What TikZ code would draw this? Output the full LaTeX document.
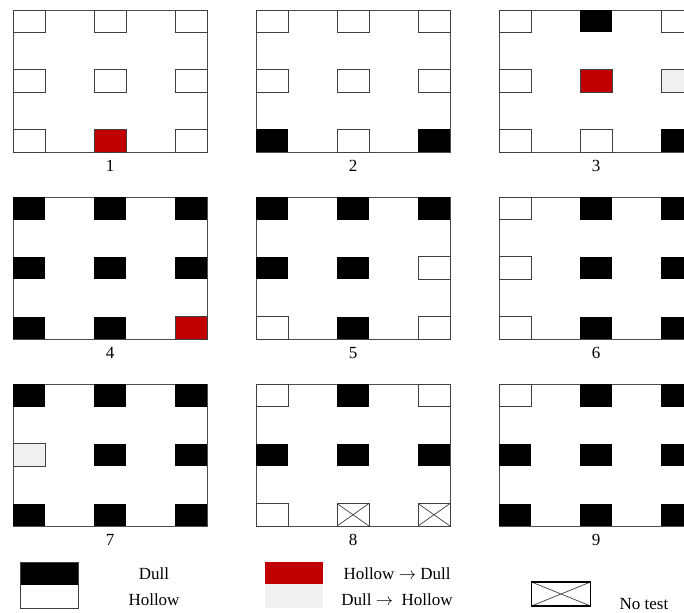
\documentclass[tikz,border=0pt]{standalone}
\usepackage{fontspec}
\setmainfont{Liberation Serif}
\usetikzlibrary{positioning}
\definecolor{hdred}{HTML}{C00000}
\definecolor{dhgray}{HTML}{F0F0F0}
\tikzset{
    base/.style = {rectangle, inner sep=0pt, outer sep=0pt, minimum width=32pt, minimum height=22.5pt},
    % cell states
    hollow/.style  = {base, draw=black!75, fill=white, line width=0.8pt},
    dull/.style    = {base, fill=black},
    hd/.style      = {base, draw=black!75, fill=hdred, line width=0.8pt},
    dh/.style      = {base, draw=black!75, fill=dhgray, line width=0.8pt},
    notest/.style  = {base, draw=black!75, fill=white, line width=0.8pt,
        path picture={\draw[black!75, line width=0.7pt]
            (path picture bounding box.north west) -- (path picture bounding box.south east)
            (path picture bounding box.south west) -- (path picture bounding box.north east);}},
    % frames and text
    frame/.style = {rectangle, draw=black!70, line width=0.8pt, minimum width=194pt, minimum height=142pt, inner sep=0pt, outer sep=0pt},
    lbl/.style   = {font=\fontsize{17}{20}\selectfont, inner sep=0pt},
    key/.style   = {rectangle, inner sep=0pt, outer sep=0pt, minimum width=58pt}
}
\begin{document}
\begin{tikzpicture}[x=1pt, y=-1pt]
    \useasboundingbox (0,0) rectangle (684,612);
    \clip (0,0) rectangle (684,612);

    % nine test panels: number / left / top / cells (row by row)
    \foreach \n/\px/\py/\cells in {
        1/13/10/{hollow,hollow,hollow,hollow,hollow,hollow,hollow,hd,hollow},
        2/256/10/{hollow,hollow,hollow,hollow,hollow,hollow,dull,hollow,dull},
        3/499/10/{hollow,dull,hollow,hollow,hd,dh,hollow,hollow,dull},
        4/13/197/{dull,dull,dull,dull,dull,dull,dull,dull,hd},
        5/256/197/{dull,dull,dull,dull,dull,hollow,hollow,dull,hollow},
        6/499/197/{hollow,dull,dull,hollow,dull,dull,hollow,dull,dull},
        7/13/384/{dull,dull,dull,dh,dull,dull,dull,dull,dull},
        8/256/384/{hollow,dull,hollow,dull,dull,dull,hollow,notest,notest},
        9/499/384/{hollow,dull,dull,dull,dull,dull,dull,dull,dull}} {
        \node[frame] (f\n) at (\px+97, \py+71) {};
        \foreach \c [count=\i from 0] in \cells {
            \pgfmathtruncatemacro{\col}{mod(\i,3)}
            \pgfmathtruncatemacro{\row}{int(\i/3)}
            \node[\c] (p\n-\i) at (\px+16+81*\col, \py+11.25+59.75*\row) {};
        }
        \node[lbl] (l\n) at (\px+97, \py+156) {\n};
    }

    % legend
    \node[key, fill=black, minimum height=23pt] (kdull) at (49.5, 573.5) {};
    \node[key, fill=white, minimum height=23pt, below=0pt of kdull] (khollow) {};
    \draw[black!75, line width=0.8pt] (kdull.north west) rectangle (khollow.south east);
    \node[lbl] (tdull) at (154, 574) {Dull};
    \node[lbl] (thollow) at (154, 600) {Hollow};

    \node[key, fill=hdred, minimum height=22pt] (khd) at (294, 573) {};
    \node[key, fill=dhgray, minimum height=24pt, below=0pt of khd] (kdh) {};
    \node[lbl] (thd) at (397, 574) {Hollow $\rightarrow$ Dull};
    \node[lbl] (tdh) at (397, 600) {Dull $\rightarrow$\ \ Hollow};

    \node[notest, minimum width=59pt, minimum height=24pt, line width=1.4pt, draw=black] (kx) at (561, 594) {};
    \node[lbl] (tx) at (644, 604) {No test};
\end{tikzpicture}
\end{document}
